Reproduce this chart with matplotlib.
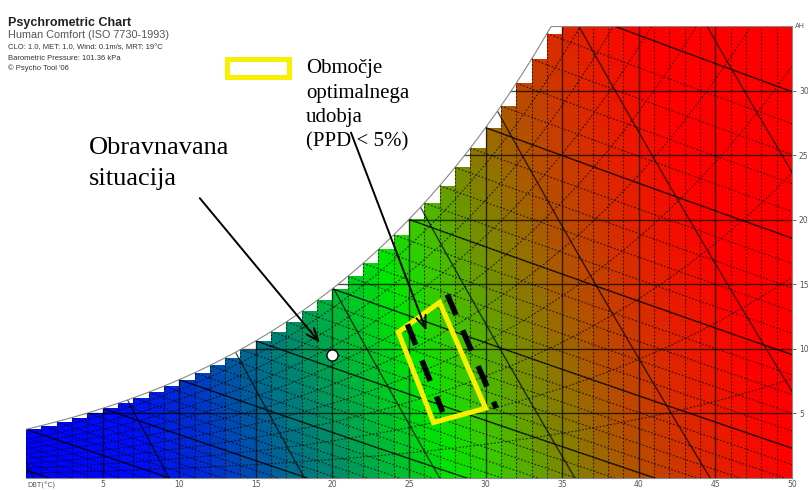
import numpy as np
import matplotlib.pyplot as plt
from matplotlib.colors import LinearSegmentedColormap
from matplotlib.patches import Polygon, Rectangle

# chart setup
P_kpa = 101.36
t_min, t_max = 0, 50
w_max = 35
x_ticks = [5, 10, 15, 20, 25, 30, 35, 40, 45, 50]
y_ticks = [5, 10, 15, 20, 25, 30]
rh_levels = [0.1, 0.2, 0.3, 0.4, 0.5, 0.6, 0.7, 0.8, 0.9]
wb_major = [-5, 0, 5, 10, 15, 20, 25, 30, 35]
wb_minor = list(range(-8, 36))
v_levels = [0.775, 0.8, 0.825, 0.85, 0.875, 0.9, 0.925, 0.95]

# overlays (DBT degC, AH g/kg)
point_T, point_W = 20.0, 9.5
comfort_T = [24.3, 27.0, 30.0, 26.6]
comfort_W = [11.3, 13.6, 5.4, 4.3]
dash_left_T, dash_left_W = [24.9, 27.2], [11.9, 5.1]
dash_right_T, dash_right_W = [27.5, 30.7], [14.2, 5.4]


def psat(t):
    return 0.61094 * np.exp(17.625 * t / (t + 243.04))


def wsat(t, rh=1.0):
    p = rh * psat(t)
    return 622.0 * p / (P_kpa - p)


def w_wetbulb(t, twb):
    ws = wsat(twb) / 1000.0
    return 1000.0 * ((2501 - 2.326 * twb) * ws - 1.006 * (t - twb)) / (2501 + 1.86 * t - 4.186 * twb)


fig = plt.figure(figsize=(8.08, 4.9), dpi=100)
ax = fig.add_axes([26 / 808, 12 / 490, 766 / 808, 452 / 490])
ax.set_xlim(t_min, t_max)
ax.set_ylim(0, w_max)

# coloured cells, stepped at the saturation curve
cols = [(0, 0, 255), (0, 15, 245), (0, 45, 210), (0, 90, 160), (0, 135, 110),
        (0, 185, 55), (0, 230, 0), (60, 200, 0), (120, 140, 0), (180, 80, 0),
        (225, 35, 0), (255, 0, 0)]
nodes = [0, 8, 12, 16, 20, 24, 28, 31, 35, 40, 45, 50]
cmap = LinearSegmentedColormap.from_list(
    'comfort', [(n / 50, tuple(c / 255 for c in col)) for n, col in zip(nodes, cols)])

xe = np.arange(t_min, t_max + 1)
ye = np.arange(0, w_max + 1)
xc, yc = np.meshgrid(xe[:-1] + 0.5, ye[:-1] + 0.5)
mesh = ax.pcolormesh(xe, ye, xc + 0.28 * yc, cmap=cmap, vmin=0, vmax=50, zorder=1)

step = [(0, 0)]
for t in xe[:-1]:
    h = min(wsat(t), w_max)
    step += [(t, h), (t + 1, h)]
step += [(t_max, 0)]
step_patch = Polygon(step, closed=True, transform=ax.transData)
mesh.set_clip_path(step_patch)

tt = np.linspace(t_min, t_max, 400)
ws_curve = np.minimum(wsat(tt), w_max)
sat_patch = Polygon(list(zip(tt, ws_curve)) + [(t_max, 0), (t_min, 0)],
                    closed=True, transform=ax.transData)

line_c = (0, 0, 0, 0.7)
dot = (0, (1.6, 1.6))


def add(x, y, solid):
    ln, = ax.plot(x, y, color=line_c, lw=1.0 if solid else 0.8,
                  ls='-' if solid else dot, zorder=2)
    ln.set_clip_path(sat_patch)


for t in range(1, 50):
    add([t, t], [0, w_max], t % 5 == 0)
for w in range(5, 35, 5):
    add([0, 50], [w, w], True)
for rh in rh_levels:
    add(tt, wsat(tt, rh), False)
for twb in wb_minor:
    tw = np.linspace(max(twb, 0), 50, 100)
    add(tw, w_wetbulb(tw, twb), False)
for twb in wb_major:
    tw = np.linspace(max(twb, 0), 50, 100)
    add(tw, w_wetbulb(tw, twb), True)
ww = np.linspace(0, w_max, 100)
for v in v_levels:
    add(v * P_kpa / (0.287042 * (1 + 1.6078 * ww / 1000)) - 273.15, ww, True)

ax.plot(tt, ws_curve, color='#888888', lw=0.8, zorder=3)
t35 = tt[np.argmax(wsat(tt) >= w_max)]
ax.plot([t35, t_max], [w_max, w_max], color='#888888', lw=0.8, zorder=3)

# axes styling
for s in ['left', 'top']:
    ax.spines[s].set_visible(False)
for s in ['right', 'bottom']:
    ax.spines[s].set_color('#888888')
    ax.spines[s].set_linewidth(0.8)
ax.yaxis.tick_right()
ax.set_xticks(x_ticks)
ax.set_yticks(y_ticks)
ax.tick_params(axis='both', labelsize=5.5, colors='#555555', length=3, width=0.6, pad=2)
ax.tick_params(axis='x', length=0, pad=1.5)
fig.text(27 / 808, 1 - 485 / 490, 'DBT(°C)', fontsize=5, color='#555555',
         ha='left', va='center')
fig.text(795 / 808, 1 - 26 / 490, 'AH', fontsize=5, color='#555555',
         ha='left', va='center')

# header
fig.text(8 / 808, 1 - 26 / 490, 'Psychrometric Chart', fontsize=9, fontweight='bold',
         family='Liberation Sans', color='#222222', va='baseline')
fig.text(8 / 808, 1 - 38 / 490, 'Human Comfort (ISO 7730-1993)', fontsize=7.8,
         family='Liberation Sans', color='#555555', va='baseline')
fig.text(8 / 808, 1 - 48 / 490, 'CLO: 1.0, MET: 1.0, Wind: 0.1m/s, MRT: 19°C', fontsize=5.5,
         family='Liberation Sans', color='#333333', va='center')
fig.text(8 / 808, 1 - 58 / 490, 'Barometric Pressure: 101.36 kPa', fontsize=5.5,
         family='Liberation Sans', color='#333333', va='center')
fig.text(8 / 808, 1 - 68 / 490, '© Psycho Tool \'06', fontsize=5.5,
         family='Liberation Sans', color='#333333', va='center')

yellow = '#f8f000'
fig.patches.append(Rectangle((227 / 808, 1 - 77 / 490), 62 / 808, 18 / 490,
                             transform=fig.transFigure, fill=False, ec=yellow, lw=3.6))
for i, s in enumerate(['Območje', 'optimalnega', 'udobja', '(PPD < 5%)']):
    fig.text(306 / 808, 1 - (73 + 24.5 * i) / 490, s, fontsize=15,
             family='Liberation Serif', va='baseline')
for i, s in enumerate(['Obravnavana', 'situacija']):
    fig.text(89 / 808, 1 - (154 + 31 * i) / 490, s, fontsize=19,
             family='Liberation Serif', va='baseline')

# comfort zone and state point
ax.add_patch(Polygon(list(zip(comfort_T, comfort_W)), closed=True, fill=False,
                     ec=yellow, lw=3.6, zorder=5))
ax.plot(dash_left_T, dash_left_W, color='black', lw=4, ls=(0, (4, 3)), zorder=6)
ax.plot(dash_right_T, dash_right_W, color='black', lw=4, ls=(0, (4, 3)), zorder=6)
ax.plot(point_T, point_W, 'o', ms=8, mfc='white', mec='black', mew=1, zorder=7)

arrow = dict(arrowstyle='->,head_length=0.9,head_width=0.35', color='black', lw=1.4)
ax.annotate('', xy=(19.3, 10.3), xycoords='data', xytext=(198, 490 - 196),
            textcoords='figure pixels', arrowprops=arrow, zorder=8)
ax.annotate('', xy=(26.2, 11.2), xycoords='data', xytext=(350, 490 - 130),
            textcoords='figure pixels', arrowprops=arrow, zorder=8)

fig.savefig('out.png', dpi=100)
